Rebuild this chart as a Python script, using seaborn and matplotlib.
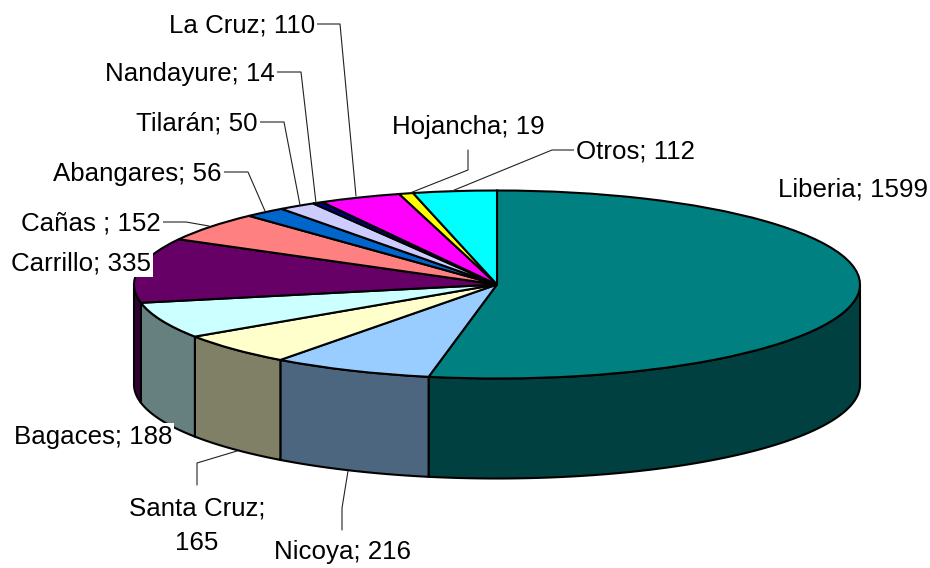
import numpy as np
import matplotlib
matplotlib.use("Agg")
import matplotlib.pyplot as plt
import seaborn as sns

categories = ["Liberia", "Nicoya", "Santa Cruz", "Bagaces", "Carrillo", "Cañas",
              "Abangares", "Tilarán", "Nandayure", "La Cruz", "Hojancha", "Otros"]
values = [1599, 216, 165, 188, 335, 152, 56, 50, 14, 110, 19, 112]
top_colors = ["#008080", "#99CCFF", "#FFFFCC", "#CCFFFF", "#660066", "#FF8080",
              "#0066CC", "#CCCCFF", "#000080", "#FF00FF", "#FFFF00", "#00FFFF"]
side_colors = ["#004040", "#4D6680", "#808066", "#668080", "#330033", "#804040",
               "#003366", "#666680", "#000040", "#800080", "#808000", "#008080"]

sns.set_theme(style="white")
plt.rcParams["font.family"] = ["Liberation Sans", "DejaVu Sans"]

W, H = 930, 568
CX, CY, RX, RY, DEPTH = 497, 284.5, 363, 94, 100

fig = plt.figure(figsize=(W / 100, H / 100), dpi=100)
ax = fig.add_axes([0, 0, 1, 1])

# pie drawn in unit-radius data space, flattened by the axes limits
wedges, _ = ax.pie(values, colors=top_colors, startangle=90, counterclock=False,
                   radius=1, wedgeprops=dict(edgecolor="black", linewidth=1.5, zorder=5))
ax.set_aspect("auto")
ax.set_xlim(-CX / RX, (W - CX) / RX)
ax.set_ylim((CY - H) / RY, CY / RY)
ax.axis("off")
d = DEPTH / RY

# extruded rim: only the front half (sin<0) is visible
fractions = np.cumsum([0] + values) / sum(values)
for i, col in enumerate(side_colors):
    a0 = np.pi / 2 - 2 * np.pi * fractions[i]
    a1 = np.pi / 2 - 2 * np.pi * fractions[i + 1]
    th = np.linspace(a0, a1, 200)
    th = th[np.sin(th) <= 0]
    if th.size < 2:
        continue
    x, y = np.cos(th), np.sin(th)
    ax.fill(np.r_[x, x[::-1]], np.r_[y, y[::-1] - d], fc=col, ec="black", lw=1.5, zorder=2)

label_pos = [(778, 189, "left"), (274, 552, "left"), (197, 526, "center"), (14, 437, "left"),
             (11, 263, "left"), (21, 224, "left"), (53, 174, "left"), (136, 124, "left"),
             (105, 74, "left"), (169, 26, "left"), (392, 127, "left"), (576, 152, "left")]
to_data = lambda px, py: ((px - CX) / RX, (CY - py) / RY)
for name, v, (px, py, ha) in zip(categories, values, label_pos):
    txt = f"{name}; {v}"
    if name == "Santa Cruz":
        txt = f"{name};\n{v}"
    if name == "Cañas":
        txt = f"{name} ; {v}"
    ax.text(*to_data(px, py), txt, ha=ha, va="center", fontsize=18.6, color="black",
            zorder=8, linespacing=1.55,
            bbox=dict(fc="white", ec="none", pad=1.5))

leaders = {
    "La Cruz": [(317, 24), (340, 24), (356, 196)],
    "Nandayure": [(277, 72), (301, 72), (316, 203)],
    "Tilarán": [(258, 122), (284, 122), (300, 205)],
    "Abangares": [(224, 172), (248, 172), (265, 211)],
    "Cañas": [(163, 222), (186, 222), (209, 226)],
    "Hojancha": [(468, 150), (468, 170), (410, 193)],
    "Otros": [(574, 150), (552, 150), (452, 191)],
    "Nicoya": [(342, 530), (342, 508), (348, 471)],
    "Santa Cruz": [(197, 485), (197, 463), (237, 451)],
}
for pts in leaders.values():
    p = [to_data(*q) for q in pts]
    ax.plot(*zip(*p), color="#222222", lw=0.8, zorder=7)

fig.savefig("out.png", dpi=100, facecolor="white")
